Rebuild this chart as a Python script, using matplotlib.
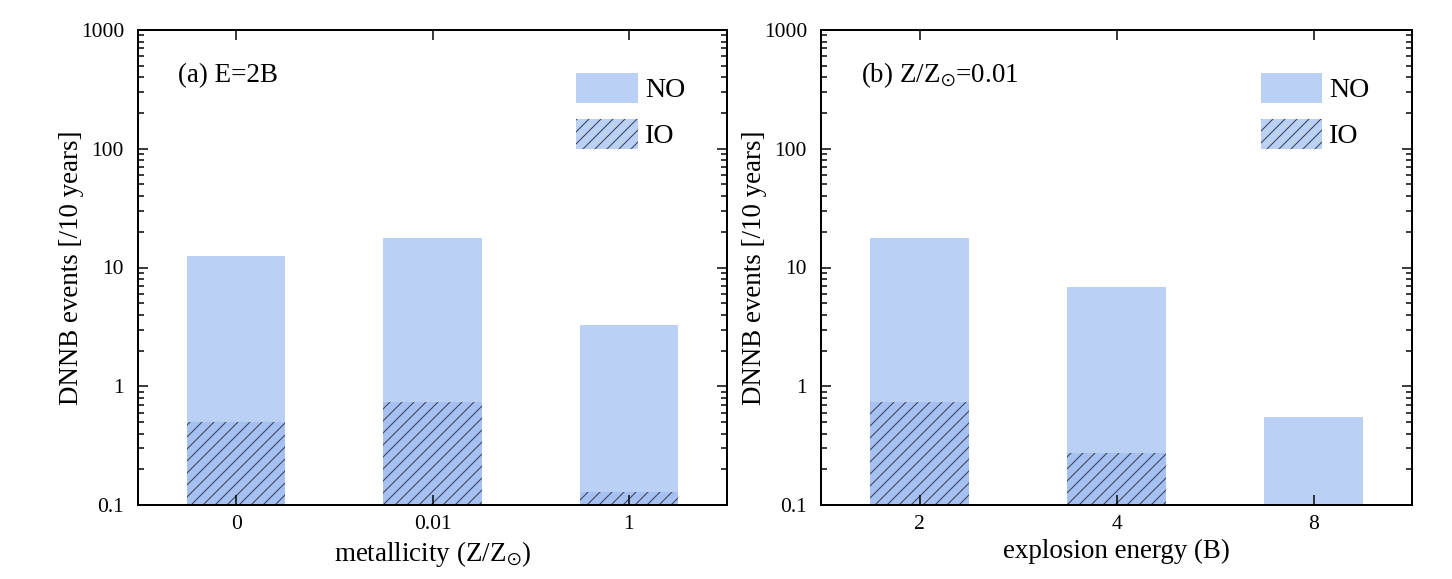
import matplotlib
matplotlib.use("Agg")
import matplotlib.pyplot as plt
from matplotlib.patches import Patch
from matplotlib.ticker import LogLocator, NullFormatter, FixedLocator

plt.rcParams["font.family"] = ["Liberation Serif", "DejaVu Serif"]
plt.rcParams["mathtext.fontset"] = "stix"
plt.rcParams["hatch.linewidth"] = 1.0
plt.rcParams["hatch.color"] = "#333d55"

# panel (a): E = 2B, varying metallicity
metal_labels = ["0", "0.01", "1"]
metal_no = [12.5, 17.7, 3.28]
metal_io = [0.50, 0.74, 0.128]

# panel (b): Z/Zsun = 0.01, varying explosion energy
energy_labels = ["2", "4", "8"]
energy_no = [17.7, 6.85, 0.55]
energy_io = [0.74, 0.274, None]

NO_COLOR = "#bad0f4"
IO_COLOR = "#a6c1f1"
HATCH_COLOR = "#333d55"
YMIN = 0.1

DPI = 72
fig = plt.figure(figsize=(1452 / DPI, 579 / DPI), dpi=DPI)
ax_a = fig.add_axes([138 / 1452, 74 / 579, 589 / 1452, 475 / 579])
ax_b = fig.add_axes([821 / 1452, 74 / 579, 591 / 1452, 475 / 579])


def draw_panel(ax, labels, no_vals, io_vals, tag, xlabel):
    x = list(range(len(labels)))
    ax.bar(x, [v - YMIN for v in no_vals], width=0.5, bottom=YMIN,
           color=NO_COLOR, linewidth=0)
    for xi, v in zip(x, io_vals):
        if v is not None:
            ax.bar(xi, v - YMIN, width=0.5, bottom=YMIN, color=IO_COLOR,
                   edgecolor=HATCH_COLOR, hatch="//", linewidth=0)
    ax.set_yscale("log")
    ax.set_ylim(YMIN, 1000)
    ax.set_xlim(-0.5, len(labels) - 0.5)
    ax.set_yticks([0.1, 1, 10, 100, 1000])
    ax.set_yticklabels(["0.1", "1", "10", "100", "1000"])
    ax.yaxis.set_minor_locator(LogLocator(base=10, subs=range(2, 10)))
    ax.yaxis.set_minor_formatter(NullFormatter())
    ax.xaxis.set_major_locator(FixedLocator(x))
    ax.set_xticklabels(labels)
    ax.tick_params(which="both", direction="in", top=True, right=True,
                   labelsize=21.5, width=1.5)
    ax.tick_params(which="major", length=10)
    ax.tick_params(which="minor", length=6)
    ax.tick_params(axis="y", pad=14)
    ax.tick_params(axis="x", pad=10)
    for s in ax.spines.values():
        s.set_linewidth(2)
    ax.set_ylabel("DNNB events [/10 years]", fontsize=27, labelpad=-3)
    ax.set_xlabel(xlabel, fontsize=27, labelpad=5)
    ax.text(0.068, 0.905, tag, transform=ax.transAxes, fontsize=27,
            va="center", ha="left")
    handles = [Patch(facecolor=NO_COLOR, edgecolor="none", label="NO"),
               Patch(facecolor=NO_COLOR, edgecolor=HATCH_COLOR, linewidth=0,
                     hatch="//", label="IO")]
    ax.legend(handles=handles, loc="upper left", bbox_to_anchor=(0.744, 0.91),
              frameon=False, fontsize=28, handlelength=2.2, handleheight=1.3,
              handletextpad=0.25, labelspacing=0.55, borderpad=0, borderaxespad=0)


draw_panel(ax_a, metal_labels, metal_no, metal_io, "(a) E=2B",
           r"metallicity (Z/Z$_{\odot}$)")
draw_panel(ax_b, energy_labels, energy_no, energy_io, r"(b) Z/Z$_{\odot}$=0.01",
           "explosion energy (B)")

fig.savefig("out.png", dpi=DPI, facecolor="white")
